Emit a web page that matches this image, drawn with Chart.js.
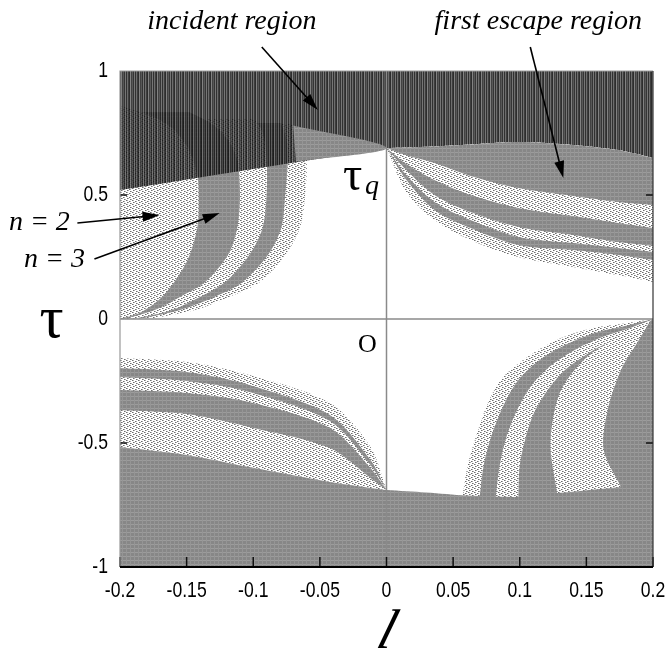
<!DOCTYPE html>
<html>
<head>
<meta charset="utf-8">
<script src="https://cdn.jsdelivr.net/npm/chart.js@4.4.1/dist/chart.umd.min.js"></script>
<style>
  html, body { margin: 0; padding: 0; background: #fff; }
</style>
</head>
<body>
<canvas id="chart" width="668" height="652"></canvas>
<script>
// axis ticks
const xTickLabels = ['-0.2', '-0.15', '-0.1', '-0.05', '0', '0.05', '0.1', '0.15', '0.2'];
const yTickLabels = ['-1', '-0.5', '0', '0.5', '1'];

// upper left: crescent edges (l, tau)
const arcA1 = [[-0.2, 0.859], [-0.178, 0.823], [-0.161, 0.77], [-0.149, 0.69], [-0.142, 0.581], [-0.141, 0.48], [-0.142, 0.367], [-0.15, 0.23], [-0.167, 0.097], [-0.184, 0.028], [-0.2, 0]];
const arcA2 = [[-0.148, 0.835], [-0.131, 0.786], [-0.119, 0.722], [-0.112, 0.641], [-0.11, 0.5], [-0.112, 0.367], [-0.119, 0.258], [-0.136, 0.149], [-0.155, 0.089], [-0.174, 0.036], [-0.194, 0.004]];
const arcA3 = [[-0.099, 0.806], [-0.093, 0.754], [-0.09, 0.649], [-0.09, 0.5], [-0.093, 0.367], [-0.103, 0.258], [-0.121, 0.149], [-0.14, 0.089], [-0.163, 0.032], [-0.187, 0.004]];
const arcA4 = [[-0.079, 0.79], [-0.075, 0.722], [-0.074, 0.649], [-0.076, 0.5], [-0.079, 0.367], [-0.089, 0.258], [-0.108, 0.149], [-0.129, 0.089], [-0.155, 0.036], [-0.182, 0.004]];
const arcA5 = [[-0.071, 0.786], [-0.064, 0.722], [-0.06, 0.649], [-0.061, 0.5], [-0.065, 0.367], [-0.076, 0.258], [-0.095, 0.149], [-0.118, 0.089], [-0.144, 0.036], [-0.174, 0.004]];

// incident region lower edge (left part is straight)
const incidentEdge = [[-0.2, 0.52], [0, 0.69]];
const wedge = [[-0.07, 0.78], [0, 0.69], [-0.068, 0.635]];

// upper right: first escape region and its bands
const escTop = [[0, 0.69], [0.015, 0.692], [0.036, 0.696], [0.063, 0.704], [0.099, 0.714], [0.14, 0.702], [0.174, 0.681], [0.2, 0.649]];
const escB1 = [[0, 0.69], [0.015, 0.66], [0.036, 0.629], [0.063, 0.577], [0.099, 0.528], [0.14, 0.496], [0.174, 0.472], [0.2, 0.46]];
const escB2 = [[0, 0.69], [0.015, 0.625], [0.036, 0.56], [0.063, 0.5], [0.099, 0.448], [0.14, 0.415], [0.174, 0.387], [0.2, 0.367]];
const escB3 = [[0, 0.69], [0.015, 0.6], [0.036, 0.5], [0.063, 0.431], [0.099, 0.371], [0.14, 0.339], [0.174, 0.31], [0.2, 0.294]];
const escB4 = [[0, 0.69], [0.015, 0.58], [0.036, 0.472], [0.063, 0.399], [0.099, 0.331], [0.14, 0.306], [0.174, 0.286], [0.2, 0.27]];
const escB5 = [[0, 0.69], [0.015, 0.56], [0.036, 0.44], [0.063, 0.367], [0.099, 0.298], [0.14, 0.278], [0.174, 0.258], [0.2, 0.238]];
const escFringe = [[0, 0.69], [0.015, 0.51], [0.036, 0.399], [0.063, 0.319], [0.099, 0.25], [0.14, 0.21], [0.174, 0.177], [0.2, 0.149]];

// lower left fan
const fanTop = [[-0.2, -0.157], [-0.15, -0.173], [-0.103, -0.226], [-0.0425, -0.339], [-0.012, -0.516], [0, -0.69]];
const fanG1a = [[-0.2, -0.198], [-0.15, -0.214], [-0.103, -0.266], [-0.0425, -0.387], [-0.012, -0.569], [0, -0.69]];
const fanG1b = [[-0.2, -0.234], [-0.15, -0.25], [-0.103, -0.294], [-0.0425, -0.411], [-0.012, -0.589], [0, -0.69]];
const fanG2a = [[-0.2, -0.286], [-0.15, -0.298], [-0.103, -0.335], [-0.0425, -0.44], [-0.012, -0.601], [0, -0.69]];
const fanG2b = [[-0.2, -0.367], [-0.15, -0.383], [-0.103, -0.435], [-0.0425, -0.52], [-0.012, -0.641], [0, -0.69]];
const fanBottom = [[-0.2, -0.516], [-0.15, -0.548], [-0.103, -0.597], [-0.0425, -0.657], [-0.012, -0.681], [0, -0.69]];
const baseRight = [[0, -0.69], [0.03, -0.7], [0.06, -0.712], [0.1, -0.718], [0.2, -0.72]];

// lower right arcs from the corner (0.2, 0); they end under the base region
const arcC1 = [[0.2, 0], [0.176, -0.02], [0.155, -0.036], [0.131, -0.077], [0.108, -0.145], [0.089, -0.226], [0.078, -0.315], [0.068, -0.46], [0.061, -0.589], [0.057, -0.718], [0.057, -0.74]];
const arcC2 = [[0.2, 0], [0.179, -0.028], [0.159, -0.052], [0.137, -0.097], [0.115, -0.165], [0.099, -0.246], [0.088, -0.347], [0.079, -0.468], [0.073, -0.589], [0.07, -0.718], [0.07, -0.74]];
const arcC3 = [[0.2, 0], [0.183, -0.036], [0.164, -0.069], [0.144, -0.117], [0.124, -0.185], [0.109, -0.266], [0.098, -0.367], [0.09, -0.476], [0.085, -0.589], [0.082, -0.718], [0.082, -0.74]];
const arcC4 = [[0.2, 0], [0.187, -0.044], [0.17, -0.085], [0.152, -0.137], [0.134, -0.206], [0.12, -0.294], [0.11, -0.387], [0.104, -0.488], [0.1, -0.589], [0.099, -0.718], [0.099, -0.74]];
const crescentOut = [[0.198, -0.008], [0.173, -0.073], [0.148, -0.165], [0.13, -0.298], [0.123, -0.5], [0.128, -0.702]];
const crescentIn = [[0.198, -0.008], [0.188, -0.097], [0.176, -0.206], [0.166, -0.367], [0.163, -0.528], [0.176, -0.677]];

// textures
function tile(w, h, draw) {
    const c = document.createElement('canvas');
    c.width = w; c.height = h;
    const g = c.getContext('2d');
    draw(g);
    return g.createPattern(c, 'repeat');
}
function px(g, x, y, col) { g.fillStyle = col; g.fillRect(x, y, 1, 1); }

const grayFill = tile(4, 4, g => {
    g.fillStyle = '#878787'; g.fillRect(0, 0, 4, 4);
    g.fillStyle = '#9c9c9c'; g.fillRect(0, 0, 4, 1);
    g.fillStyle = '#959595'; g.fillRect(2, 0, 1, 4);
});
const stippleFill = tile(6, 4, g => {
    g.fillStyle = '#ffffff'; g.fillRect(0, 0, 6, 4);
    const d = '#6e6e6e', l = '#aaaaaa';
    px(g, 0, 0, d); px(g, 1, 0, l);
    px(g, 3, 1, d); px(g, 4, 1, l);
    px(g, 1, 2, d); px(g, 2, 2, l);
    px(g, 4, 3, d); px(g, 5, 3, l);
});
const darkFill = tile(9, 2, g => {
    [15, 85, 30, 10, 110, 35, 60, 20, 95].forEach((v, i) => {
        g.fillStyle = 'rgba(' + v + ',' + v + ',' + v + ',0.86)';
        g.fillRect(i, 0, 1, 2);
    });
});

function rev(a) { return a.slice().reverse(); }
// join boundary pieces into one closed outline; repeated end points keep corners sharp
function outline(parts) {
    const out = [];
    parts.forEach(part => {
        out.push(part[0]);
        part.forEach(p => out.push(p));
        out.push(part[part.length - 1]);
    });
    return out.map(p => ({x: p[0], y: p[1]}));
}

// drawn bottom to top
const regions = [
    [[arcA5, [[-0.2, 0]], [[-0.2, 0.786]]], stippleFill],
    [[arcA4, [[-0.2, 0]], [[-0.2, 0.79]]], grayFill],
    [[arcA3, [[-0.2, 0]], [[-0.2, 0.806]]], stippleFill],
    [[arcA2, [[-0.2, 0]], [[-0.2, 0.835]]], grayFill],
    [[arcA1], stippleFill],
    [[[[-0.2, 1]], [[0.2, 1]], rev(escTop), incidentEdge.slice(0, 1)], darkFill],
    [[wedge], grayFill],
    [[escTop, rev(escFringe)], stippleFill],
    [[escTop, rev(escB1)], grayFill],
    [[escB2, rev(escB3)], grayFill],
    [[escB4, rev(escB5)], grayFill],
    [[fanTop, rev(fanBottom)], stippleFill],
    [[fanG1a, rev(fanG1b)], grayFill],
    [[fanG2a, rev(fanG2b)], grayFill],
    [[arcC1, [[0.2, -0.74]]], stippleFill],
    [[arcC2, [[0.2, -0.74]]], grayFill],
    [[arcC3, [[0.2, -0.74]]], stippleFill],
    [[arcC4, [[0.2, -0.74]]], grayFill],
    [[crescentOut, rev(crescentIn)], stippleFill],
    [[[[-0.2, -1]], [[0.2, -1]], rev(baseRight), rev(fanBottom)], grayFill]
];

// annotation positions in data units
const notes = [
    {text: 'incident region', at: [-0.116, 1.17], font: 'italic 28px "Liberation Serif"', align: 'center'},
    {text: 'first escape region', at: [0.1139, 1.17], font: 'italic 28px "Liberation Serif"', align: 'center'},
    {text: 'n = 2', at: [-0.2605, 0.36], font: 'italic 28px "Liberation Serif"', align: 'center'},
    {text: 'n = 3', at: [-0.2492, 0.21], font: 'italic 28px "Liberation Serif"', align: 'center'},
    {text: 'τ', at: [-0.2605, -0.0726], font: '60px "Liberation Serif"', align: 'left'},
    {text: 'τ', at: [-0.0327, 0.52], font: '48px "Liberation Serif"', align: 'left'},
    {text: 'q', at: [-0.0162, 0.505], font: 'italic 28px "Liberation Serif"', align: 'left'},
    {text: 'O', at: [-0.0214, -0.133], font: '26px "Liberation Serif"', align: 'left'},
    {text: 'l', at: [-0.003, -1.325], font: 'italic 56px "Liberation Serif"', align: 'center', slant: 0.3}
];
const arrows = [
    [[-0.0936, 1.097], [-0.0515, 0.843]],
    [[0.1079, 1.097], [0.1327, 0.569]],
    [[-0.232, 0.387], [-0.1703, 0.419]],
    [[-0.2192, 0.242], [-0.1252, 0.427]]
];
const tickFont = '22px "Liberation Sans", Arial, sans-serif';

const overlay = {
    id: 'overlay',
    afterDatasetsDraw(chart) {
        const {ctx, chartArea: a, scales: {x, y}} = chart;
        ctx.save();
        // axes through the origin
        ctx.strokeStyle = '#8a8a8a';
        ctx.lineWidth = 1.5;
        ctx.beginPath();
        ctx.moveTo(x.getPixelForValue(0), a.top);
        ctx.lineTo(x.getPixelForValue(0), a.bottom);
        ctx.moveTo(a.left, y.getPixelForValue(0));
        ctx.lineTo(a.right, y.getPixelForValue(0));
        ctx.stroke();

        // inward tick marks
        ctx.strokeStyle = '#111';
        ctx.lineWidth = 1.5;
        ctx.beginPath();
        x.ticks.forEach(t => {
            const xp = x.getPixelForValue(t.value);
            ctx.moveTo(xp, a.bottom);
            ctx.lineTo(xp, a.bottom - 10);
        });
        [0.5, -0.5].forEach(v => {
            const yp = y.getPixelForValue(v);
            ctx.moveTo(a.left, yp); ctx.lineTo(a.left + 7, yp);
            ctx.moveTo(a.right, yp); ctx.lineTo(a.right - 7, yp);
        });
        ctx.stroke();

        // frame
        ctx.lineWidth = 1.2;
        ctx.strokeStyle = '#999';
        ctx.beginPath();
        ctx.moveTo(a.left, a.bottom); ctx.lineTo(a.left, a.top); ctx.lineTo(a.right, a.top);
        ctx.stroke();
        ctx.strokeStyle = '#333';
        ctx.beginPath();
        ctx.moveTo(a.right, a.top); ctx.lineTo(a.right, a.bottom);
        ctx.stroke();
        ctx.lineWidth = 2;
        ctx.strokeStyle = '#000';
        ctx.beginPath();
        ctx.moveTo(a.left, a.bottom); ctx.lineTo(a.right, a.bottom);
        ctx.stroke();

        // narrow tick labels, placed from the scales' own ticks
        ctx.fillStyle = '#000';
        ctx.font = tickFont;
        ctx.textBaseline = 'middle';
        ctx.textAlign = 'center';
        x.ticks.forEach(t => {
            ctx.save();
            ctx.translate(x.getPixelForValue(t.value), a.bottom + 24);
            ctx.scale(0.8, 1);
            ctx.fillText(t.label, 0, 0);
            ctx.restore();
        });
        ctx.textAlign = 'right';
        y.ticks.forEach(t => {
            ctx.save();
            ctx.translate(a.left - 12, y.getPixelForValue(t.value));
            ctx.scale(0.8, 1);
            ctx.fillText(t.label, 0, 0);
            ctx.restore();
        });

        // arrows
        ctx.strokeStyle = '#000';
        ctx.lineWidth = 1.6;
        arrows.forEach(([p0, p1]) => {
            const x0 = x.getPixelForValue(p0[0]), y0 = y.getPixelForValue(p0[1]);
            const x1 = x.getPixelForValue(p1[0]), y1 = y.getPixelForValue(p1[1]);
            const ang = Math.atan2(y1 - y0, x1 - x0);
            ctx.beginPath();
            ctx.moveTo(x0, y0);
            ctx.lineTo(x1 - 10 * Math.cos(ang), y1 - 10 * Math.sin(ang));
            ctx.stroke();
            ctx.beginPath();
            ctx.moveTo(x1, y1);
            ctx.lineTo(x1 - 17 * Math.cos(ang) + 5 * Math.sin(ang), y1 - 17 * Math.sin(ang) - 5 * Math.cos(ang));
            ctx.lineTo(x1 - 17 * Math.cos(ang) - 5 * Math.sin(ang), y1 - 17 * Math.sin(ang) + 5 * Math.cos(ang));
            ctx.closePath();
            ctx.fill();
        });

        // labels
        ctx.textBaseline = 'alphabetic';
        notes.forEach(n => {
            ctx.save();
            ctx.font = n.font;
            ctx.textAlign = n.align;
            ctx.translate(x.getPixelForValue(n.at[0]), y.getPixelForValue(n.at[1]));
            if (n.slant) ctx.transform(1, 0, -n.slant, 1, 0, 0);
            ctx.fillText(n.text, 0, 0);
            ctx.restore();
        });
        ctx.restore();
    }
};

const ctx = document.getElementById('chart').getContext('2d');
const chart = new Chart(ctx, {
    type: 'line',
    data: {
        datasets: regions.map((r, i) => ({
            data: outline(r[0]),
            backgroundColor: r[1],
            borderColor: 'rgba(0,0,0,0)',
            borderWidth: 0,
            pointRadius: 0,
            tension: 0.3,
            fill: 'shape',
            order: -i
        }))
    },
    options: {
        responsive: false,
        animation: false,
        events: [],
        layout: {padding: {top: 71, right: 15, left: 0, bottom: 0}},
        plugins: {legend: {display: false}, tooltip: {enabled: false}},
        scales: {
            x: {
                type: 'linear',
                min: -0.2,
                max: 0.2,
                afterFit(scale) { scale.height = 85; },
                grid: {display: false, drawTicks: false},
                border: {display: false},
                ticks: {
                    display: false,
                    stepSize: 0.05,
                    autoSkip: false,
                    callback: (v, i) => xTickLabels[i]
                }
            },
            y: {
                type: 'linear',
                min: -1,
                max: 1,
                afterFit(scale) { scale.width = 120; },
                grid: {display: false, drawTicks: false},
                border: {display: false},
                ticks: {
                    display: false,
                    stepSize: 0.5,
                    callback: (v, i) => yTickLabels[i]
                }
            }
        }
    },
    plugins: [overlay]
});
</script>
</body>
</html>
